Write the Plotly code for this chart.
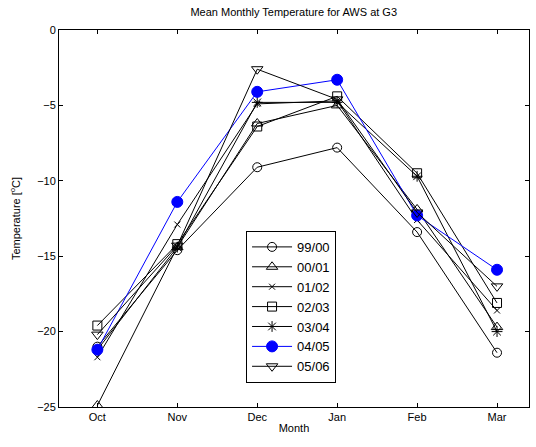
import plotly.graph_objects as go

months = ["Oct", "Nov", "Dec", "Jan", "Feb", "Mar"]
month_pos = [1, 2, 3, 4, 5, 6]

s9900 = [-21.0, -14.6, -9.1, -7.8, -13.4, -21.4]
s0001 = [-24.9, -14.4, -6.2, -5.0, -11.9, -19.7]
s0102 = [-21.7, -12.9, -4.9, -4.7, -12.6, -18.6]
s0203 = [-19.6, -14.2, -6.4, -4.4, -9.5, -18.1]
s0304 = [-21.2, -14.4, -4.8, -4.8, -9.7, -20.0]
s0405 = [-21.2, -11.4, -4.1, -3.3, -12.3, -15.9]
s0506 = [-20.2, -14.3, -2.6, -4.6, -12.1, -17.0]

series_names = ["99/00", "00/01", "01/02", "02/03", "03/04", "04/05", "05/06"]
series_values = [s9900, s0001, s0102, s0203, s0304, s0405, s0506]
symbols = ["circle-open", "triangle-up-open", "x-thin-open", "square-open",
           "asterisk-open", "circle", "triangle-down-open"]
colors = ["black", "black", "black", "black", "black", "blue", "black"]
sizes = [9, 10, 6, 9, 9, 11, 10]

fig = go.Figure()
for name, vals, sym, col, sz in zip(series_names, series_values, symbols, colors, sizes):
    fig.add_trace(go.Scatter(
        x=month_pos, y=vals, name=name, mode="lines+markers",
        line=dict(color=col, width=1),
        marker=dict(symbol=sym, size=sz, color=col, line=dict(color=col, width=1)),
    ))

fig.update_layout(
    width=536, height=447,
    margin=dict(l=59, r=7, t=30, b=40),
    paper_bgcolor="white", plot_bgcolor="white",
    font=dict(family="Liberation Sans, Arial, sans-serif", size=11, color="black"),
    title=dict(text="Mean Monthly Temperature for AWS at G3", x=0.548, xanchor="center",
               y=0.973, yanchor="middle", font=dict(size=11)),
    showlegend=True,
    legend=dict(x=0.398, y=0.467, xanchor="left", yanchor="top",
                bordercolor="black", borderwidth=1, bgcolor="white",
                font=dict(size=13), tracegroupgap=0, itemwidth=40),
)
fig.update_xaxes(
    range=[0.52, 6.4], tickvals=month_pos, ticktext=months,
    showline=True, linecolor="black", linewidth=1, mirror="ticks",
    ticks="inside", ticklen=4, tickcolor="black", showgrid=False, zeroline=False,
    title=dict(text="Month", standoff=2, font=dict(size=11)),
    tickfont=dict(size=11),
)
fig.update_yaxes(
    range=[-25, 0], tickvals=[0, -5, -10, -15, -20, -25],
    showline=True, linecolor="black", linewidth=1, mirror="ticks",
    ticks="inside", ticklen=4, tickcolor="black", showgrid=False, zeroline=False,
    title=dict(text="Temperature [<sup>o</sup>C]", standoff=14, font=dict(size=11)),
    tickfont=dict(size=11),
)

fig.write_html("out.html")
